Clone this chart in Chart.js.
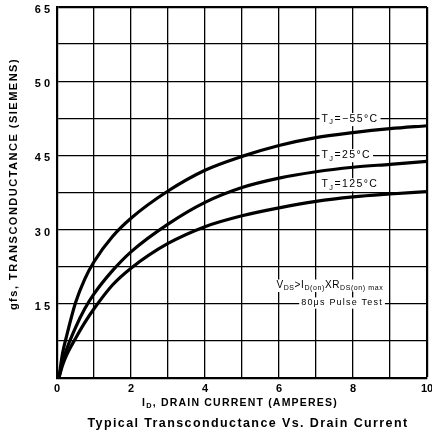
<!DOCTYPE html>
<html>
<head>
<meta charset="utf-8">
<script src="https://cdn.jsdelivr.net/npm/chart.js@4.4.1/dist/chart.umd.min.js"></script>
<style>
  html, body { margin: 0; padding: 0; background: #fff; }
  #wrap { width: 432px; height: 434px; }
</style>
</head>
<body>
<div id="wrap"><canvas id="c" width="432" height="434"></canvas></div>
<script>
// drain current (A) sample points, shared by all three curves
const drainCurrent = [0.05, 0.15, 0.25, 0.5, 0.75, 1, 1.5, 2, 3, 4, 5, 6, 7, 8, 9, 10];
// gfs (siemens)
const gfsMinus55 = [0, 0.5, 0.82, 1.52, 2.0, 2.35, 2.86, 3.23, 3.78, 4.2, 4.48, 4.7, 4.86, 4.96, 5.04, 5.1];
const gfs25 = [0, 0.32, 0.56, 1.02, 1.4, 1.7, 2.17, 2.55, 3.11, 3.55, 3.85, 4.04, 4.17, 4.26, 4.32, 4.38];
const gfs125 = [0, 0.26, 0.45, 0.8, 1.12, 1.4, 1.88, 2.22, 2.72, 3.06, 3.28, 3.44, 3.57, 3.66, 3.72, 3.77];
const seriesTemps = ['\u221255\u00b0C', '25\u00b0C', '125\u00b0C'];

// tick labels as printed
const xTickLabels = ['0', '2', '4', '6', '8', '10'];      // every 2 A
const yTickLabels = ['0', '1 5', '3 0', '4 5', '5 0', '6 5']; // every 1.5 S

const FONT = "'Liberation Sans', Arial, Helvetica, sans-serif";

function pts(ys) {
  return drainCurrent.map((x, i) => ({ x: x, y: ys[i] }));
}

// draw text made of [text, isSubscript] pieces, returns width
function richText(ctx, parts, x, y, size, spacing, opts) {
  opts = opts || {};
  ctx.save();
  ctx.letterSpacing = spacing + 'px';
  let w = 0;
  const widths = parts.map(p => {
    ctx.font = (opts.bold ? 'bold ' : '') + (p[1] ? size * 0.7 : size) + 'px ' + FONT;
    const m = ctx.measureText(p[0]).width;
    w += m;
    return m;
  });
  let left = x;
  if (opts.align === 'center') left = x - w / 2;
  if (opts.bg) {
    ctx.fillStyle = '#fff';
    ctx.fillRect(left - 2, y - size * 0.6, w + 4, size * 1.25);
  }
  ctx.fillStyle = '#000';
  ctx.textBaseline = 'middle';
  ctx.textAlign = 'left';
  let cx = left;
  parts.forEach((p, i) => {
    ctx.font = (opts.bold ? 'bold ' : '') + (p[1] ? size * 0.7 : size) + 'px ' + FONT;
    ctx.fillText(p[0], cx, p[1] ? y + size * 0.3 : y);
    cx += widths[i];
  });
  ctx.restore();
  return w;
}

const textPlugin = {
  id: 'textPlugin',
  afterDraw(chart) {
    const ctx = chart.ctx;
    const xs = chart.scales.x, ys = chart.scales.y;

    // curve labels
    const labelY = [5.23, 4.5, 3.91];
    seriesTemps.forEach((t, i) => {
      richText(ctx, [['T', false], ['J', true], ['=' + t, false]],
        xs.getPixelForValue(7.15), ys.getPixelForValue(labelY[i]), 10.5, 1.4, { bg: true });
    });

    // test conditions
    richText(ctx, [['V', false], ['DS', true], ['>I', false], ['D(on)', true], ['XR', false], ['DS(on) max', true]],
      xs.getPixelForValue(5.93), ys.getPixelForValue(1.87), 10, 0.6, { bg: true });
    richText(ctx, [['80\u03bcs Pulse Test', false]],
      xs.getPixelForValue(6.6), ys.getPixelForValue(1.52), 9, 1.2, { bg: true });

    // axis titles
    richText(ctx, [['I', false], ['D', true], [', DRAIN CURRENT (AMPERES)', false]],
      240, 403, 10.5, 1.2, { bold: true, align: 'center' });
    richText(ctx, [['Typical Transconductance Vs. Drain Current', false]],
      248, 424, 12.5, 1.4, { bold: true, align: 'center' });

    ctx.save();
    ctx.translate(14, 184);
    ctx.rotate(-Math.PI / 2);
    richText(ctx, [['gfs, TRANSCONDUCTANCE (SIEMENS)', false]], 0, 0, 11, 1.5, { bold: true, align: 'center' });
    ctx.restore();
  }
};

const lineStyle = {
  borderColor: '#000',
  borderWidth: 3.2,
  pointRadius: 0,
  fill: false,
  cubicInterpolationMode: 'monotone'
};

new Chart(document.getElementById('c'), {
  type: 'line',
  data: {
    datasets: [
      Object.assign({ label: 'TJ=' + seriesTemps[0], data: pts(gfsMinus55) }, lineStyle),
      Object.assign({ label: 'TJ=' + seriesTemps[1], data: pts(gfs25) }, lineStyle),
      Object.assign({ label: 'TJ=' + seriesTemps[2], data: pts(gfs125) }, lineStyle)
    ]
  },
  options: {
    responsive: false,
    animation: false,
    devicePixelRatio: 1,
    layout: { padding: { top: 7, right: 5, left: 0, bottom: 0 } },
    plugins: {
      legend: { display: false },
      tooltip: { enabled: false }
    },
    scales: {
      x: {
        type: 'linear',
        min: 0,
        max: 10,
        afterFit: s => { s.height = 56; s.paddingLeft = 0; s.paddingRight = 0; },
        ticks: {
          stepSize: 1,
          autoSkip: false,
          maxRotation: 0,
          padding: 4,
          color: '#000',
          font: { family: FONT, size: 11, weight: 'bold' },
          callback: v => (v % 2 === 0 ? xTickLabels[v / 2] : '')
        },
        grid: {
          color: '#000',
          drawTicks: false,
          lineWidth: c => (c.tick && c.tick.value === 10 ? 2.2 : 1.3)
        },
        border: { color: '#000', width: 2.2 }
      },
      y: {
        min: 0,
        max: 7.5,
        afterFit: s => { s.width = 57; s.paddingTop = 0; s.paddingBottom = 0; },
        ticks: {
          stepSize: 0.75,
          autoSkip: false,
          padding: 7,
          labelOffset: 3,
          color: '#000',
          font: { family: FONT, size: 11, weight: 'bold' },
          callback: v => {
            const k = v / 1.5;
            if (Math.abs(k - Math.round(k)) > 1e-6 || v === 0) return '';
            return yTickLabels[Math.round(k)];
          }
        },
        grid: {
          color: '#000',
          drawTicks: false,
          lineWidth: c => (c.tick && c.tick.value === 7.5 ? 2.2 : 1.3)
        },
        border: { color: '#000', width: 2.2 }
      }
    }
  },
  plugins: [textPlugin]
});
</script>
</body>
</html>
